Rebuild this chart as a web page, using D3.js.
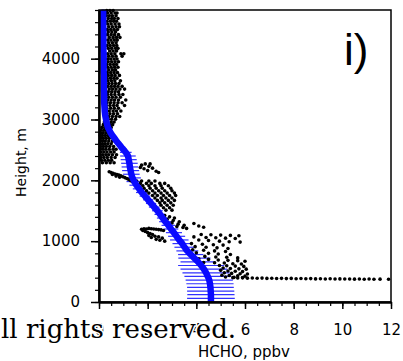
<!DOCTYPE html>
<html>
<head>
  <meta http-equiv="Content-Type" content="text/html;charset=utf-8" />
  <style type="text/css">
    body { margin: 0; background: #fff; }
    .tick text { font-family: "DejaVu Sans", sans-serif; font-size: 15px; fill: #000; }
    .axis path, .axis line { stroke: #000; }
  </style>
</head>

<body>
  <div id="svgContainer"></div>
  <script src="https://d3js.org/d3.v7.min.js"></script>

  <script type="text/javascript">
    // model profile levels (m), mean HCHO (ppbv) and spread
    var levels = [0, 60, 120, 180, 240, 300, 360, 420, 480, 540,
      600, 660, 720, 780, 840, 900, 960, 1020, 1080, 1140,
      1200, 1260, 1320, 1380, 1440, 1500, 1560, 1620, 1680, 1740,
      1800, 1860, 1920, 1980, 2040, 2100, 2160, 2220, 2280, 2340,
      2400, 2460, 2520, 2580, 2640, 2700, 2760, 2820, 2880, 2940,
      3000, 3060, 3120, 3180, 3240, 3300, 3360, 3420, 3480, 3540,
      3600, 3660, 3720, 3780, 3840, 3900, 3960, 4020, 4080, 4140,
      4200, 4260, 4320, 4380, 4440, 4500, 4560, 4620, 4680, 4740, 4800];
    var meanHCHO = [4.60, 4.60, 4.60, 4.59, 4.58, 4.56, 4.53, 4.47, 4.40, 4.31,
      4.20, 4.07, 3.92, 3.77, 3.63, 3.52, 3.42, 3.30, 3.19, 3.08,
      2.96, 2.85, 2.73, 2.62, 2.51, 2.40, 2.27, 2.14, 2.02, 1.89,
      1.76, 1.65, 1.54, 1.45, 1.38, 1.33, 1.30, 1.27, 1.25, 1.22,
      1.19, 1.10, 0.97, 0.85, 0.73, 0.62, 0.51, 0.43, 0.36, 0.32,
      0.29, 0.26, 0.24, 0.23, 0.22, 0.21, 0.21, 0.21, 0.20, 0.20,
      0.20, 0.20, 0.20, 0.19, 0.19, 0.19, 0.19, 0.19, 0.19, 0.18,
      0.18, 0.18, 0.18, 0.18, 0.18, 0.18, 0.17, 0.17, 0.17, 0.17, 0.17];
    var sdHCHO = [0.97, 0.98, 0.97, 0.97, 0.96, 0.97, 0.97, 0.96, 0.97, 0.96,
      0.95, 0.72, 0.66, 0.52, 0.45, 0.42, 0.40, 0.38, 0.35, 0.33,
      0.30, 0.28, 0.26, 0.24, 0.23, 0.22, 0.22, 0.21, 0.21, 0.22,
      0.24, 0.26, 0.29, 0.32, 0.34, 0.34, 0.35, 0.34, 0.34, 0.33,
      0.32, 0.24, 0.16, 0.13, 0.12, 0.11, 0.10, 0.10, 0.09, 0.09,
      0.08, 0.08, 0.08, 0.07, 0.07, 0.07, 0.07, 0.07, 0.07, 0.07,
      0.07, 0.07, 0.07, 0.07, 0.07, 0.07, 0.07, 0.07, 0.07, 0.07,
      0.07, 0.07, 0.07, 0.07, 0.07, 0.07, 0.07, 0.07, 0.07, 0.07, 0.07];

    // aircraft observations, free troposphere band: [height, hcho...]
    var obsBandRows = [
      [4790, 0.32, 0.45, 0.58], [4750, 0.35, 0.50, 0.66, 0.74], [4705, 0.30, 0.42, 0.55, 0.70],
      [4660, 0.38, 0.52, 0.63, 0.78], [4615, 0.33, 0.47, 0.60, 0.72], [4570, 0.36, 0.50, 0.66, 0.82],
      [4525, 0.40, 0.55, 0.70, 0.84], [4480, 0.34, 0.48, 0.62, 0.76], [4440, 0.38, 0.53, 0.68],
      [4395, 0.35, 0.50, 0.64, 0.80], [4350, 0.42, 0.58, 0.72, 0.86], [4305, 0.36, 0.49, 0.63, 0.75],
      [4260, 0.40, 0.55, 0.70], [4215, 0.33, 0.46, 0.60, 0.73], [4170, 0.38, 0.52, 0.68, 0.78],
      [4125, 0.44, 0.58, 0.72], [4080, 0.36, 0.50, 0.65, 0.90, 1.02], [4040, 0.40, 0.55, 0.70, 0.95],
      [3995, 0.35, 0.48, 0.62, 0.74], [3950, 0.38, 0.52, 0.66, 0.80], [3905, 0.32, 0.46, 0.60, 0.72],
      [3860, 0.36, 0.50, 0.64, 0.78], [3815, 0.40, 0.55, 0.68], [3770, 0.34, 0.48, 0.62, 0.76],
      [3725, 0.38, 0.52, 0.66, 0.84], [3680, 0.33, 0.47, 0.61, 0.74], [3635, 0.37, 0.51, 0.65, 0.88],
      [3590, 0.40, 0.54, 0.68, 0.82], [3545, 0.36, 0.50, 0.64, 0.78, 0.95], [3500, 0.42, 0.56, 0.70, 0.86, 1.05],
      [3455, 0.38, 0.52, 0.66, 0.80], [3410, 0.35, 0.50, 0.65, 0.82, 0.98], [3365, 0.40, 0.55, 0.70, 0.88],
      [3320, 0.36, 0.50, 0.64, 0.80, 1.10], [3275, 0.33, 0.47, 0.62, 0.78, 0.95], [3230, 0.30, 0.45, 0.60, 0.74, 1.05],
      [3185, 0.32, 0.48, 0.63, 0.80], [3140, 0.28, 0.42, 0.58, 0.72, 0.90], [3095, 0.30, 0.45, 0.60, 0.76],
      [3050, 0.27, 0.40, 0.55, 0.70, 0.85], [3005, 0.25, 0.38, 0.52, 0.68], [2960, 0.22, 0.35, 0.50, 0.62],
      [2915, 0.18, 0.30, 0.44, 0.56], [2870, 0.12, 0.24, 0.38, 0.50], [2825, 0.08, 0.20, 0.32, 0.45],
      [2780, 0.06, 0.16, 0.28, 0.40], [2735, 0.05, 0.14, 0.26, 0.38], [2690, 0.08, 0.18, 0.30, 0.42],
      [2645, 0.06, 0.15, 0.26, 0.40, 0.55], [2600, 0.05, 0.14, 0.24, 0.36, 0.50], [2555, 0.07, 0.18, 0.30, 0.44, 0.60],
      [2510, 0.06, 0.16, 0.28, 0.42, 0.58, 0.70], [2465, 0.08, 0.20, 0.33, 0.48, 0.62],
      [2420, 0.05, 0.15, 0.28, 0.40, 0.55, 0.72], [2375, 0.08, 0.20, 0.34, 0.50, 0.66],
      [2330, 0.10, 0.24, 0.38, 0.52], [2290, 0.14, 0.30, 0.46, 0.62]
    ];

    // observations 1500-2300 m: [hcho, height]
    var obsMid = [
      [1.75, 2250], [1.90, 2270], [2.05, 2230], [2.20, 2200], [1.85, 2190], [2.00, 2160], [2.35, 2150],
      [2.45, 2130], [1.70, 2210], [2.10, 2270],
      [0.42, 2140], [0.50, 2130], [0.58, 2115], [0.66, 2105], [0.74, 2095], [0.82, 2085], [0.90, 2075],
      [0.98, 2060], [1.06, 2045], [1.14, 2030], [1.22, 2015], [1.30, 1995], [1.38, 1975],
      [0.55, 2095], [0.70, 2070], [0.85, 2050],
      [1.55, 1990], [1.75, 1990], [2.05, 1990], [2.30, 1990],
      [1.70, 1950], [1.95, 1950], [2.15, 1950], [2.50, 1950], [2.70, 1950],
      [1.80, 1910], [2.05, 1910], [2.30, 1910], [2.55, 1910], [2.85, 1910],
      [1.85, 1870], [2.10, 1870], [2.35, 1870], [2.60, 1870], [2.95, 1870],
      [1.95, 1830], [2.20, 1830], [2.45, 1830], [2.70, 1830], [3.00, 1830],
      [2.05, 1790], [2.30, 1790], [2.55, 1790], [2.80, 1790], [3.10, 1790],
      [2.20, 1750], [2.40, 1750], [2.65, 1750], [2.90, 1750], [3.15, 1750],
      [2.30, 1710], [2.55, 1710], [2.75, 1710], [3.00, 1710],
      [2.40, 1670], [2.60, 1670], [2.85, 1670], [3.10, 1670],
      [2.50, 1630], [2.70, 1630], [2.95, 1630],
      [2.55, 1590], [2.80, 1590], [3.05, 1590],
      [2.65, 1550], [2.90, 1550], [2.75, 1510], [3.00, 1510]
    ];

    // observations 650-1450 m
    var obsLow = [
      [2.70, 1420], [2.90, 1400], [3.10, 1380], [2.80, 1360], [3.05, 1340], [3.30, 1320], [3.00, 1300],
      [3.25, 1280], [3.50, 1260], [3.20, 1240], [3.45, 1225], [3.60, 1210], [3.90, 1290], [4.10, 1250],
      [4.30, 1230],
      [1.75, 1195], [1.85, 1205], [1.95, 1200], [2.05, 1210], [2.15, 1205], [2.25, 1200], [2.35, 1195],
      [2.45, 1190], [2.55, 1185], [2.65, 1175], [1.80, 1175], [1.90, 1160], [2.00, 1140], [2.10, 1125],
      [2.20, 1110], [2.05, 1095], [2.30, 1080], [2.45, 1070], [2.15, 1060], [2.60, 1050], [2.35, 1030],
      [2.50, 1015], [2.70, 1000],
      [4.20, 1110], [4.60, 1105], [5.00, 1100], [5.40, 1095], [5.75, 1090], [3.90, 1070], [4.40, 1060],
      [4.80, 1055], [5.20, 1050], [5.60, 1045], [4.10, 1020], [4.50, 1010], [4.95, 1000], [5.35, 990],
      [5.80, 985], [3.80, 960], [4.25, 950], [4.70, 940], [5.10, 935], [3.95, 910], [4.40, 900],
      [4.85, 890], [5.30, 880], [3.85, 860], [4.30, 850], [4.75, 840], [5.20, 830], [4.00, 810],
      [4.50, 800], [4.90, 790], [5.40, 780], [3.90, 760], [4.35, 750], [4.80, 740], [5.25, 735], [5.70, 725]
    ];

    // observations in the boundary layer and the ~380 m run
    var obsBL = [
      [4.10, 710], [4.50, 700], [4.90, 690], [5.30, 685], [5.70, 680], [6.00, 670], [4.30, 650],
      [4.75, 645], [5.15, 640], [5.50, 630], [5.85, 625], [4.95, 600], [5.25, 595], [5.60, 590],
      [5.95, 585], [5.10, 560], [5.40, 550], [5.75, 545], [6.05, 540], [5.00, 520], [5.30, 510],
      [5.60, 505], [5.90, 500], [5.15, 480], [5.45, 470], [5.80, 465], [6.10, 460], [5.05, 440],
      [5.35, 435], [5.70, 430], [6.00, 425], [5.20, 410], [5.55, 405], [5.90, 400],
      [5.50, 400], [5.70, 395], [5.90, 398], [6.10, 392], [6.30, 395], [6.50, 390], [6.70, 393],
      [6.90, 388], [7.10, 391], [7.30, 386], [7.50, 389], [7.70, 385], [7.90, 388], [8.10, 383],
      [8.30, 386], [8.50, 382], [8.70, 385], [8.90, 380], [9.10, 383], [9.30, 379], [9.50, 382],
      [9.70, 378], [9.90, 380], [10.10, 377], [10.30, 379], [10.50, 376], [10.70, 378], [10.90, 375],
      [11.10, 377], [11.30, 374], [11.55, 376], [11.90, 375]
    ];

    var xMajor = [0, 2, 4, 6, 8, 10, 12];
    var yMajor = [0, 1000, 2000, 3000, 4000];

    var w = 403, h = 361;
    var svg = d3.select("#svgContainer")
      .append("svg")
      .attr("width", w)
      .attr("height", h);

    var x = d3.scaleLinear().domain([0, 12]).range([99, 391]);
    var y = d3.scaleLinear().domain([0, 4800]).range([302, 10]);

    var obs = [];
    obsBandRows.forEach(function (r) {
      r.slice(1).forEach(function (v) { obs.push([v, r[0]]); });
    });
    obs = obs.concat(obsMid, obsLow, obsBL);

    var profile = levels.map(function (z, i) {
      return { z: z, m: meanHCHO[i], s: sdHCHO[i] };
    });

    // error bars
    svg.append("g").selectAll("line")
      .data(profile)
      .enter().append("line")
      .attr("x1", function (d) { return x(d.m - d.s); })
      .attr("x2", function (d) { return x(d.m + d.s); })
      .attr("y1", function (d) { return y(d.z); })
      .attr("y2", function (d) { return y(d.z); })
      .attr("stroke", "#3030ff")
      .attr("stroke-width", 1.2);

    // observations
    svg.append("g").selectAll("circle")
      .data(obs)
      .enter().append("circle")
      .attr("cx", function (d) { return x(d[0]); })
      .attr("cy", function (d) { return y(d[1]); })
      .attr("r", 1.8)
      .attr("fill", "#000");

    var line = d3.line()
      .x(function (d) { return x(d.m); })
      .y(function (d) { return y(d.z); })
      .curve(d3.curveMonotoneY);

    svg.append("path")
      .attr("d", line(profile))
      .attr("fill", "none")
      .attr("stroke", "#0a0aff")
      .attr("stroke-width", 6.5);

    // frame
    svg.append("rect")
      .attr("x", 99).attr("y", 10)
      .attr("width", 292).attr("height", 292)
      .attr("fill", "none")
      .attr("stroke", "#000")
      .attr("stroke-width", 1.5);

    // axes
    var xMinor = svg.append("g").attr("class", "axis")
      .attr("transform", "translate(0,302)")
      .call(d3.axisBottom(x).ticks(24).tickSize(4).tickSizeOuter(0).tickFormat(""));
    xMinor.select(".domain").remove();
    var xAxis = svg.append("g").attr("class", "axis")
      .attr("transform", "translate(0,302)")
      .call(d3.axisBottom(x).tickValues(xMajor).tickSize(7).tickSizeOuter(0).tickPadding(15));
    xAxis.select(".domain").attr("stroke-width", 2.5);
    xAxis.selectAll(".tick line").attr("stroke-width", 1.5);
    xMinor.selectAll(".tick line").attr("stroke-width", 1.2);

    var yMinor = svg.append("g").attr("class", "axis")
      .attr("transform", "translate(99,0)")
      .call(d3.axisLeft(y).ticks(24).tickSize(4).tickSizeOuter(0).tickFormat(""));
    yMinor.select(".domain").remove();
    var yAxis = svg.append("g").attr("class", "axis")
      .attr("transform", "translate(99,0)")
      .call(d3.axisLeft(y).tickValues(yMajor).tickSize(8).tickSizeOuter(0).tickPadding(11)
        .tickFormat(d3.format("d")));
    yAxis.select(".domain").attr("stroke-width", 2.5);
    yAxis.selectAll(".tick line").attr("stroke-width", 1.5);
    yMinor.selectAll(".tick line").attr("stroke-width", 1.2);

    // titles
    svg.append("text")
      .attr("x", 244).attr("y", 357)
      .attr("text-anchor", "middle")
      .style("font-family", "DejaVu Sans, sans-serif")
      .style("font-size", "15px")
      .text("HCHO, ppbv");

    svg.append("text")
      .attr("transform", "translate(25.5,162.5) rotate(-90)")
      .attr("text-anchor", "middle")
      .style("font-family", "DejaVu Sans, sans-serif")
      .style("font-size", "14px")
      .text("Height, m");

    svg.append("text")
      .attr("x", 344).attr("y", 65)
      .style("font-family", "Liberation Sans, Arial, sans-serif")
      .style("font-size", "44px")
      .text("i)");

    // copyright strip over the bottom-left labels
    svg.append("text")
      .attr("x", 1).attr("y", 338)
      .style("font-family", "DejaVu Serif, serif")
      .style("font-size", "26px")
      .attr("stroke", "#fff")
      .attr("stroke-width", 3)
      .attr("paint-order", "stroke")
      .attr("fill", "#000")
      .text("ll rights reserved.");
  </script>
</body>

</html>
